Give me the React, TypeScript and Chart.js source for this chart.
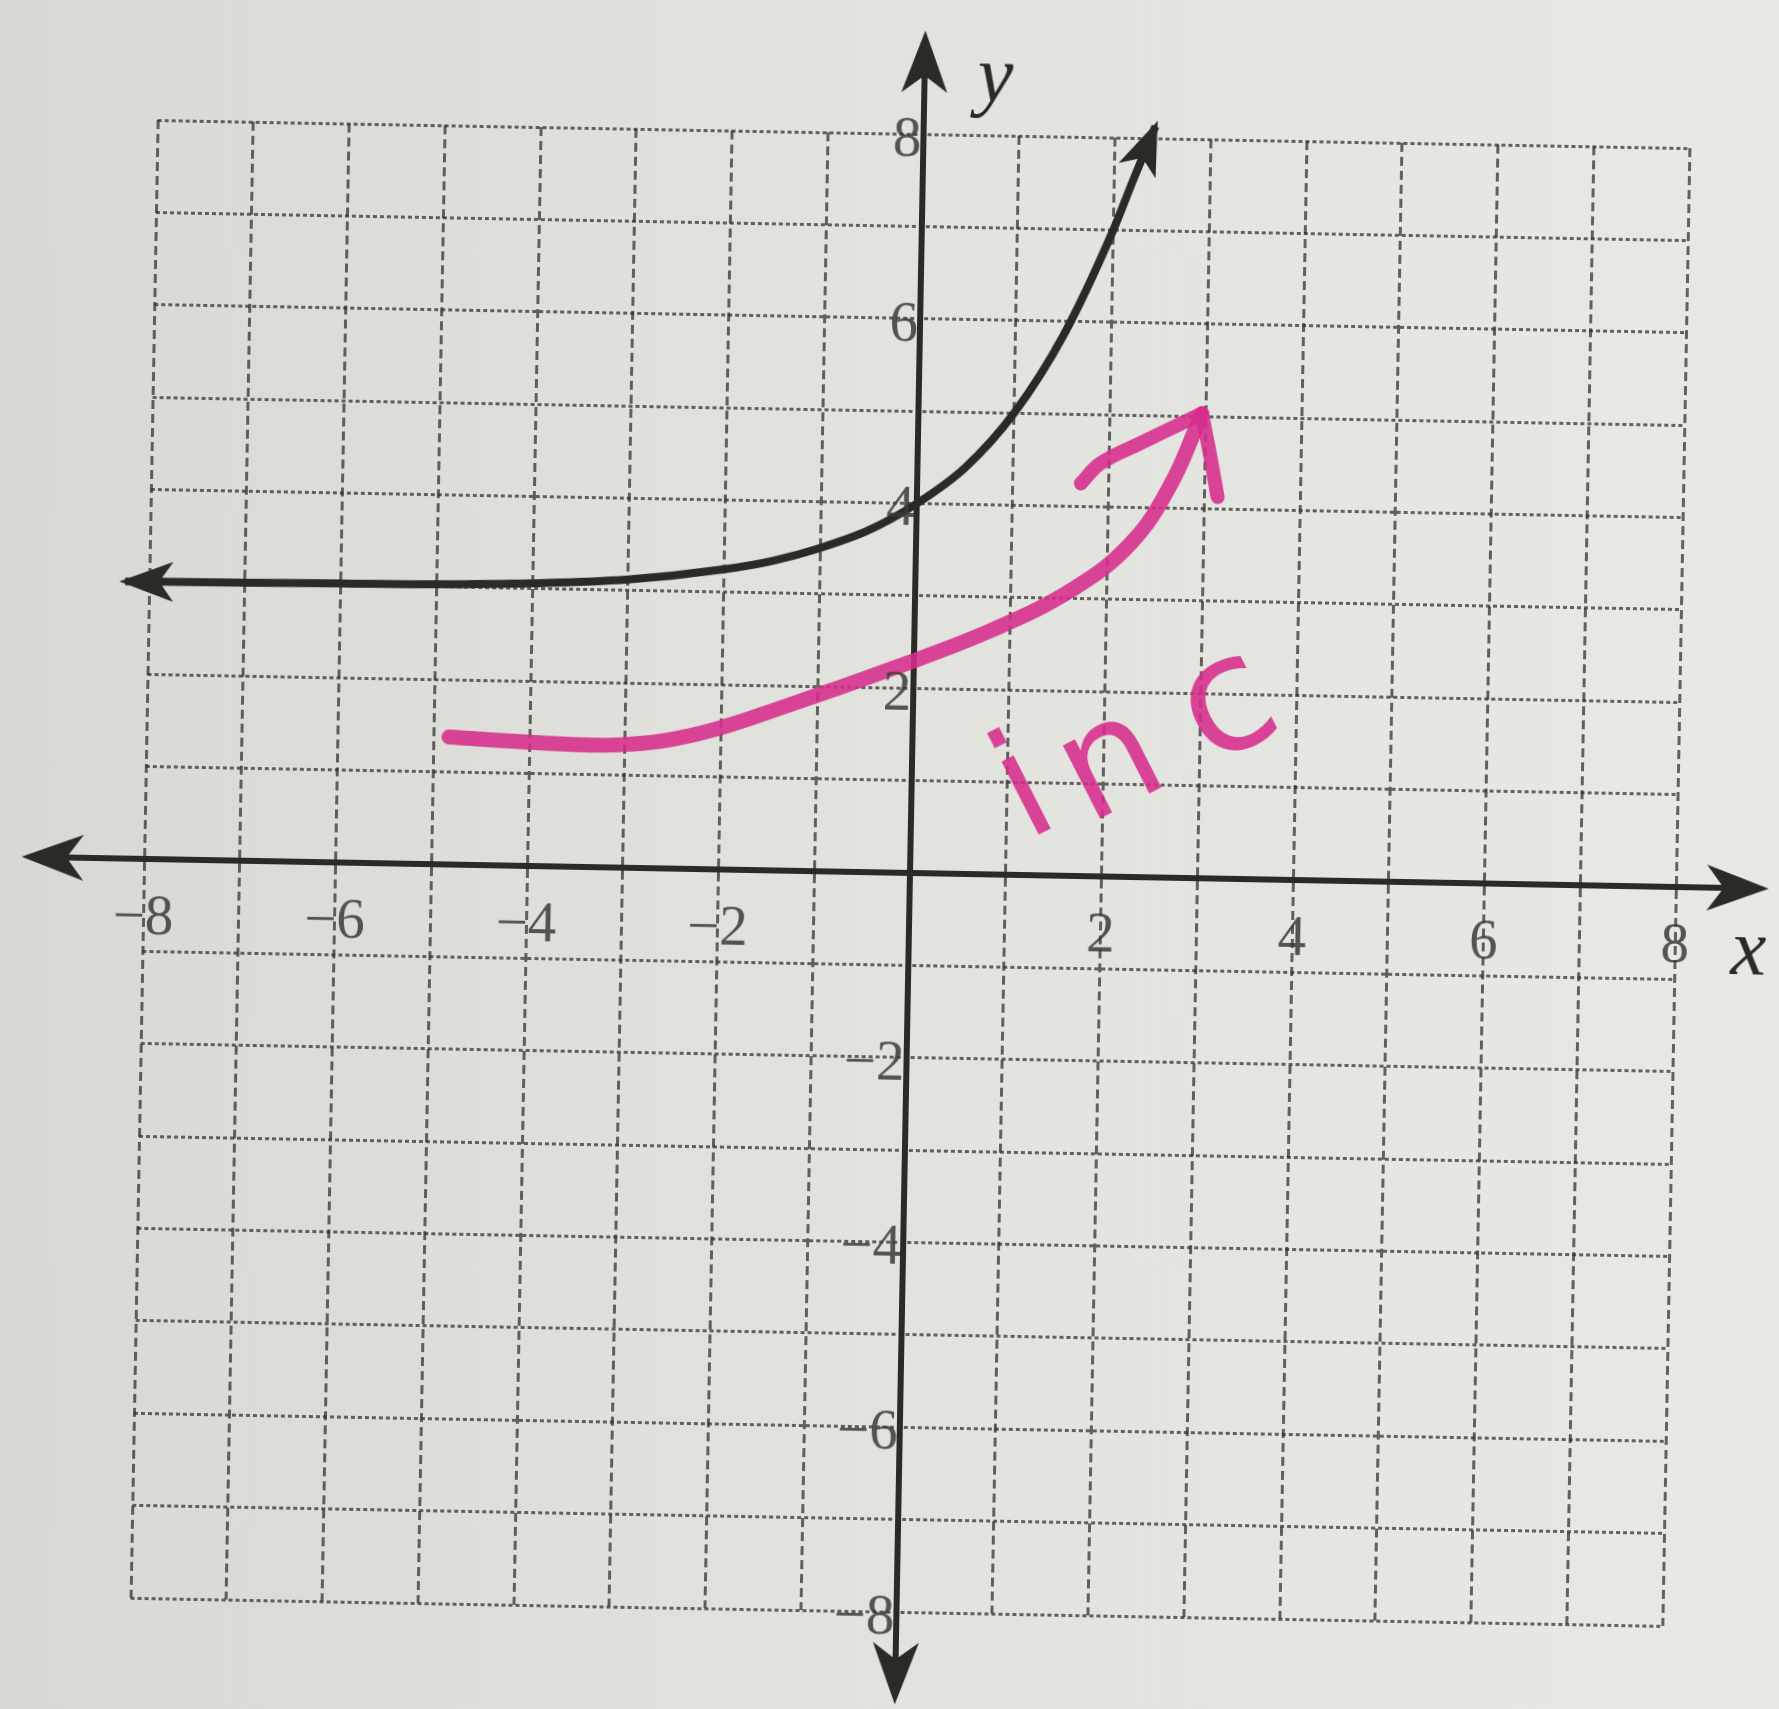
import React, { useEffect, useRef } from "react";
import { Chart, registerables } from "chart.js";

Chart.register(...registerables);

// Printed tick labels along the two axes
const xTickValues = [-8, -6, -4, -2, 2, 4, 6, 8];
const xTickLabels = ["−8", "−6", "−4", "−2", "2", "4", "6", "8"];
const yTickValues = [8, 6, 4, 2, -2, -4, -6, -8];
const yTickLabels = ["8", "6", "4", "2", "−2", "−4", "−6", "−8"];

// Printed exponential curve (asymptote y = 3, through (0, 4))
const curveX = [-8.25, -7, -6, -5, -4, -3, -2, -1.5, -1, -0.5, 0, 0.5, 1, 1.5, 2, 2.2, 2.42];
const curveY = [3.0, 3.01, 3.02, 3.03, 3.06, 3.12, 3.25, 3.35, 3.5, 3.7, 4.0, 4.4, 5.0, 5.85, 7.0, 7.55, 8.13];

// Marker stroke showing the increasing trend, plus its arrowhead barbs
const markX = [-4.84, -4.0, -3.05, -2.22, -1.28, -0.22, 0.84, 1.67, 2.25, 2.65, 2.96];
const markY = [1.38, 1.34, 1.33, 1.47, 1.8, 2.21, 2.66, 3.12, 3.62, 4.26, 5.03];
const barbLeftX = [1.71, 1.91, 2.33, 2.96];
const barbLeftY = [4.25, 4.47, 4.7, 5.03];
const barbRightX = [2.96, 3.05, 3.14];
const barbRightY = [5.03, 4.6, 4.13];

// Axis lines run past the grid and end in arrows
const xAxisEnds = [-9.28, 8.97];
const yAxisEnds = [-9.0, 9.12];

// Handwritten note beside the marker stroke
const noteLetters = ["i", "n", "c"];
const noteX = [1.12, 2.08, 3.29];
const noteY = [1.02, 1.2, 1.86];

const INK = "#2a2a26";
const PRINT = "rgba(58, 58, 54, 0.85)";
const PINK = "rgba(214, 44, 140, 0.88)";
const GRID = "rgba(45, 45, 41, 0.72)";

const pts = (xs: number[], ys: number[]) => xs.map((x, i) => ({ x, y: ys[i] }));

function arrowHead(
  ctx: CanvasRenderingContext2D,
  tx: number,
  ty: number,
  angle: number,
  len: number,
  half: number,
  notch: number
) {
  ctx.save();
  ctx.translate(tx, ty);
  ctx.rotate(angle);
  ctx.beginPath();
  ctx.moveTo(0, 0);
  ctx.lineTo(-len, -half);
  ctx.lineTo(-len + notch, 0);
  ctx.lineTo(-len, half);
  ctx.closePath();
  ctx.fillStyle = INK;
  ctx.fill();
  ctx.restore();
}

const graphPaper = {
  id: "graphPaper",
  beforeDatasetsDraw(chart: any) {
    const { ctx } = chart;
    const xs = chart.scales.x;
    const ys = chart.scales.y;
    const x0 = xs.getPixelForValue(0);
    const y0 = ys.getPixelForValue(0);
    const xl = xs.getPixelForValue(xAxisEnds[0]);
    const xr = xs.getPixelForValue(xAxisEnds[1]);
    const yt = ys.getPixelForValue(yAxisEnds[1]);
    const yb = ys.getPixelForValue(yAxisEnds[0]);
    ctx.save();
    ctx.strokeStyle = INK;
    ctx.lineWidth = 6;
    ctx.beginPath();
    ctx.moveTo(xl + 30, y0);
    ctx.lineTo(xr - 30, y0);
    ctx.moveTo(x0, yt + 30);
    ctx.lineTo(x0, yb - 30);
    ctx.stroke();
    arrowHead(ctx, xr, y0, 0, 62, 23, 17);
    arrowHead(ctx, xl, y0, Math.PI, 62, 23, 17);
    arrowHead(ctx, x0, yt, -Math.PI / 2, 62, 23, 17);
    arrowHead(ctx, x0, yb, Math.PI / 2, 62, 23, 17);
    ctx.restore();
  },
  afterDatasetsDraw(chart: any) {
    const { ctx } = chart;
    const xs = chart.scales.x;
    const ys = chart.scales.y;
    const x0 = xs.getPixelForValue(0);
    const y0 = ys.getPixelForValue(0);

    // arrowheads on both ends of the printed curve
    const c = chart.getDatasetMeta(0).data;
    const first = c[0];
    const second = c[1];
    const last = c[c.length - 1];
    const prev = c[c.length - 2];
    const aL = Math.atan2(first.y - second.y, first.x - second.x);
    const aR = Math.atan2(last.y - prev.y, last.x - prev.x);
    arrowHead(ctx, first.x + 6 * Math.cos(aL), first.y + 6 * Math.sin(aL), aL, 54, 20, 14);
    arrowHead(ctx, last.x + 6 * Math.cos(aR), last.y + 6 * Math.sin(aR), aR, 54, 20, 14);

    ctx.save();
    // tick numbers printed next to the axes
    ctx.fillStyle = PRINT;
    ctx.font = "57px 'Liberation Serif', 'DejaVu Serif', serif";
    ctx.textAlign = "center";
    ctx.textBaseline = "middle";
    xTickValues.forEach((v, i) => {
      ctx.fillText(xTickLabels[i], xs.getPixelForValue(v), y0 + 60);
    });
    ctx.textAlign = "right";
    yTickValues.forEach((v, i) => {
      ctx.fillText(yTickLabels[i], x0 - 2, ys.getPixelForValue(v) + 7);
    });

    // axis names
    ctx.fillStyle = INK;
    ctx.font = "italic 80px 'Liberation Serif', 'DejaVu Serif', serif";
    ctx.textAlign = "center";
    ctx.fillText("y", xs.getPixelForValue(0.74), ys.getPixelForValue(8.6));
    ctx.fillText("x", xs.getPixelForValue(8.77), ys.getPixelForValue(-0.7));

    // handwritten "inc"
    ctx.fillStyle = PINK;
    ctx.textAlign = "center";
    ctx.textBaseline = "alphabetic";
    noteLetters.forEach((ch, i) => {
      ctx.font = `${i === 2 ? 160 : 150}px 'DejaVu Sans', sans-serif`;
      const m = ctx.measureText(ch);
      const mid = (m.actualBoundingBoxAscent - m.actualBoundingBoxDescent) / 2;
      ctx.save();
      ctx.translate(xs.getPixelForValue(noteX[i]), ys.getPixelForValue(noteY[i]));
      ctx.rotate((-28 * Math.PI) / 180);
      ctx.fillText(ch, 0, mid);
      ctx.restore();
    });
    ctx.restore();
  },
};

export default function App() {
  const ref = useRef<HTMLCanvasElement>(null);

  useEffect(() => {
    if (!ref.current) return;
    const pinkLine = {
      showLine: true,
      borderColor: PINK,
      borderCapStyle: "round",
      borderJoinStyle: "round",
      pointRadius: 0,
      tension: 0.4,
      clip: false,
    };
    const chart = new Chart(ref.current, {
      type: "scatter",
      data: {
        datasets: [
          {
            data: pts(curveX, curveY),
            showLine: true,
            borderColor: INK,
            borderWidth: 8,
            pointRadius: 0,
            cubicInterpolationMode: "monotone",
            clip: false,
          },
          { ...pinkLine, data: pts(markX, markY), borderWidth: 15 },
          { ...pinkLine, data: pts(barbLeftX, barbLeftY), borderWidth: 14 },
          { ...pinkLine, data: pts(barbRightX, barbRightY), borderWidth: 14 },
        ],
      },
      options: {
        responsive: false,
        animation: false,
        events: [],
        layout: { padding: { left: 144, right: 103, top: 134, bottom: 97 } },
        plugins: {
          legend: { display: false },
          tooltip: { enabled: false },
        },
        scales: {
          x: {
            type: "linear",
            min: -8,
            max: 8,
            ticks: { stepSize: 1, display: false },
            grid: { color: GRID, lineWidth: 3, drawTicks: false },
            border: { display: false, dash: [9, 5] },
          },
          y: {
            type: "linear",
            min: -8,
            max: 8,
            ticks: { stepSize: 1, display: false },
            grid: { color: GRID, lineWidth: 3, drawTicks: false },
            border: { display: false, dash: [4, 3] },
          },
        },
      },
      plugins: [graphPaper],
    } as any);
    return () => chart.destroy();
  }, []);

  return (
    <div
      style={{
        position: "fixed",
        left: 0,
        top: 0,
        width: 1779,
        height: 1709,
        overflow: "hidden",
        background: "linear-gradient(90deg, #d9d9d4 0%, #e2e2dd 45%, #e8e8e4 100%)",
      }}
    >
      <canvas
        ref={ref}
        width={1779}
        height={1709}
        style={{
          position: "absolute",
          left: 0,
          top: 0,
          width: 1779,
          height: 1709,
          transform: "rotate(1.05deg)",
          transformOrigin: "912px 873px",
        }}
      />
    </div>
  );
}
